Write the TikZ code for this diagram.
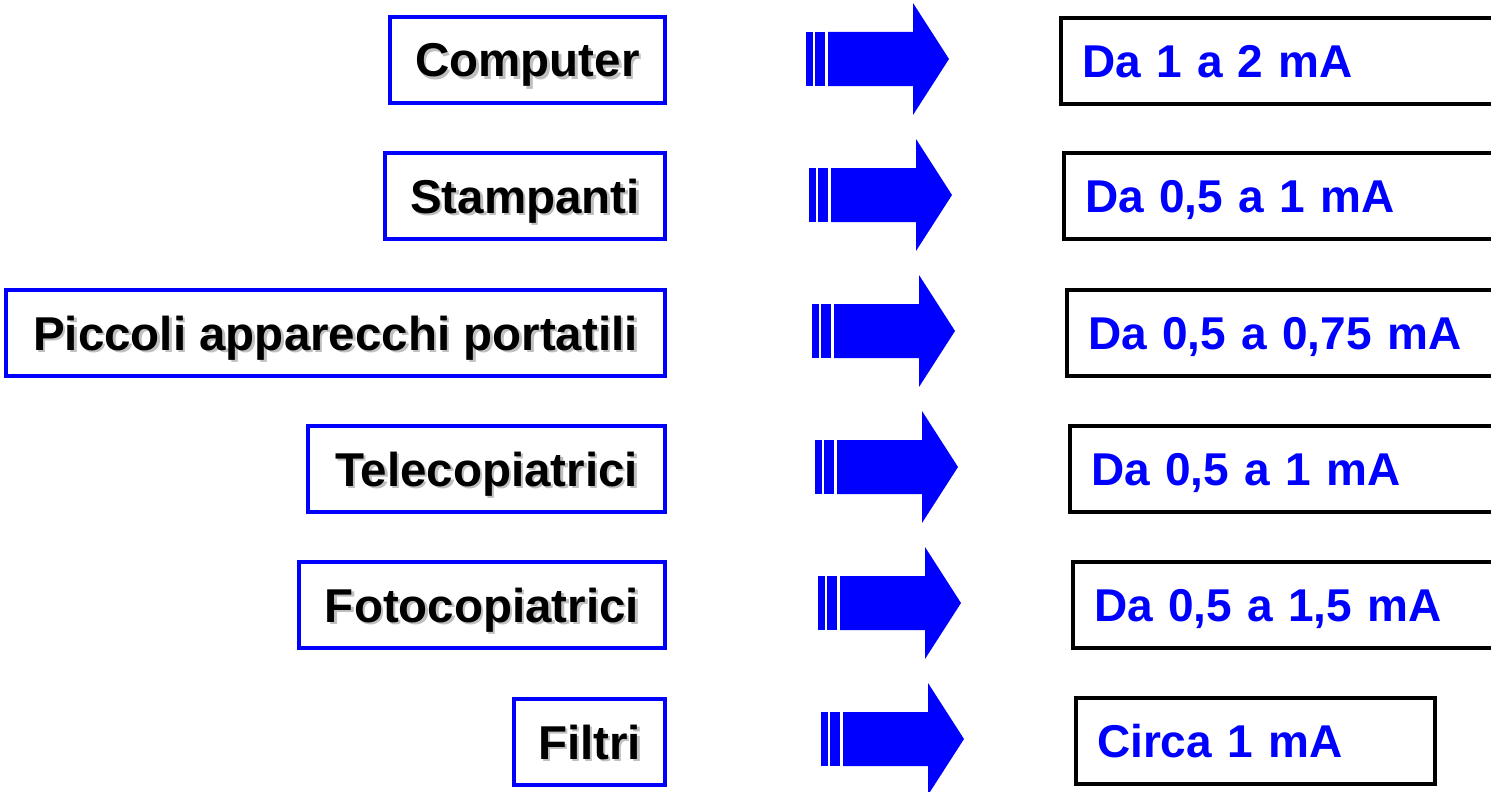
\documentclass[tikz,border=0pt]{standalone}
\usepackage{fontspec}
\setmainfont{Liberation Sans}
\definecolor{pptblue}{RGB}{0,0,255}
\newcommand{\shadowed}[1]{\rlap{\hspace{2.5pt}\raisebox{-2.5pt}{\color{black!25}#1}}#1}
\tikzset{
  devbox/.style={draw=pptblue,line width=4pt,fill=white,minimum height=86pt,
    inner sep=0pt,text height=34pt,text depth=0pt,
    font=\fontsize{47.5}{52}\selectfont\bfseries,anchor=east},
  valbox/.style={draw=black,line width=4pt,fill=white,minimum height=86pt,
    inner xsep=21pt,inner ysep=0pt,text height=33pt,text depth=0pt,align=left,anchor=west,
    text=pptblue,font=\fontsize{46}{52}\selectfont\bfseries}
}
\begin{document}
\begin{tikzpicture}[x=1pt,y=-1pt]
        \useasboundingbox (0,0) rectangle (1491,792);
        \clip (0,0) rectangle (1491,792);

        % devices
        \draw (667,60) node[devbox,minimum width=275pt] (computer) {\shadowed{Computer}};
        \draw (667,196) node[devbox,minimum width=280pt] (stampanti) {\shadowed{Stampanti}};
        \draw (667,333) node[devbox,minimum width=659pt] (piccoli) {\shadowed{Piccoli apparecchi portatili}};
        \draw (667,469) node[devbox,minimum width=357pt] (tele) {\shadowed{Telecopiatrici}};
        \draw (667,605) node[devbox,minimum width=366pt] (foto) {\shadowed{Fotocopiatrici}};
        \draw (667,742) node[devbox,minimum width=151pt] (filtri) {\shadowed{Filtri}};

        % currents
        \draw (1059,61) node[valbox,text width=399pt] (v1) {Da 1 a 2 mA};
        \draw (1062,196) node[valbox,text width=399pt] (v2) {Da 0,5 a 1 mA};
        \draw (1065,333) node[valbox,text width=399pt] (v3) {Da 0,5 a 0,75 mA};
        \draw (1068,469) node[valbox,text width=399pt] (v4) {Da 0,5 a 1 mA};
        \draw (1071,605) node[valbox,text width=399pt] (v5) {Da 0,5 a 1,5 mA};
        \draw (1074,741) node[valbox,text width=317pt] (v6) {Circa 1 mA};

        % block arrows
        \foreach \i in {0,...,5} {
          \pgfmathsetmacro{\x}{806+3*\i}
          \pgfmathsetmacro{\y}{59+136*\i}
          \fill[pptblue] (\x,\y-27) rectangle (\x+7,\y+27);
          \fill[pptblue] (\x+9,\y-27) rectangle (\x+19,\y+27);
          \fill[pptblue] (\x+22,\y-27) -- (\x+107,\y-27) -- (\x+107,\y-56)
            -- (\x+143,\y) -- (\x+107,\y+56) -- (\x+107,\y+27) -- (\x+22,\y+27) -- cycle;
        }
\end{tikzpicture}
\end{document}
